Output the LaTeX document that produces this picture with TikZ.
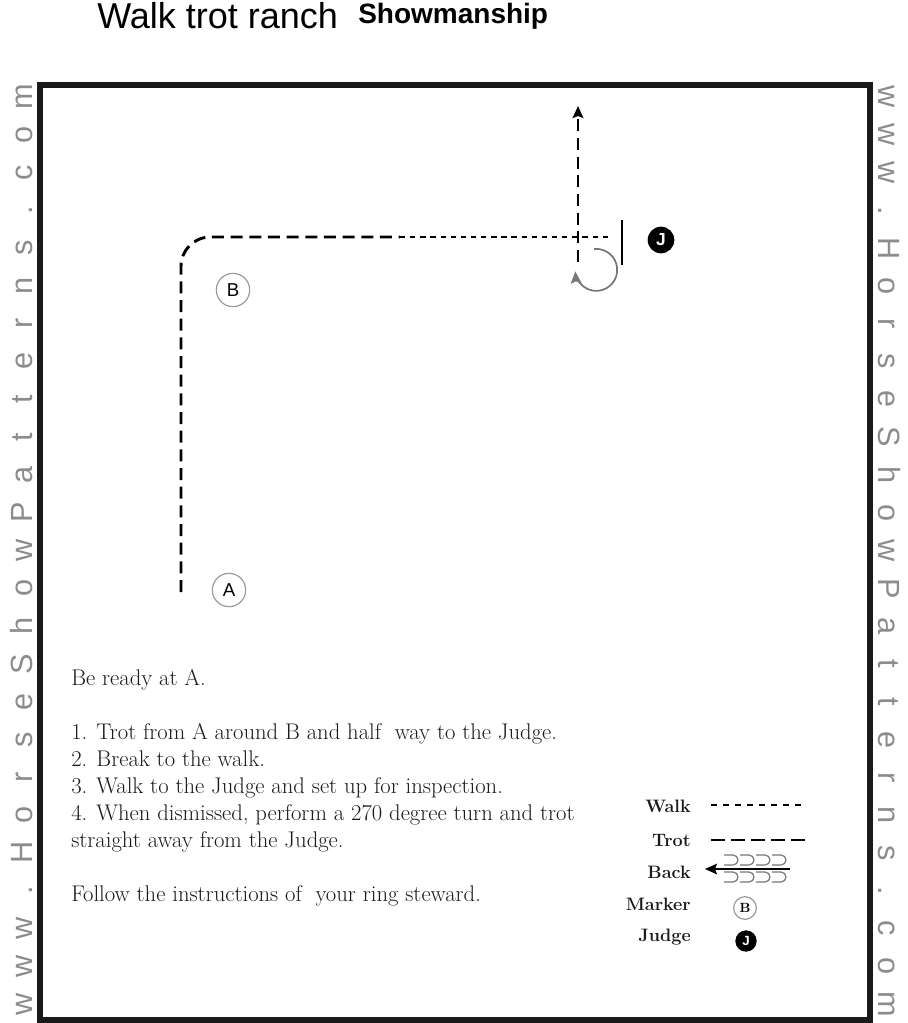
\documentclass[tikz,border=0pt]{standalone}
\usepackage{fontspec}
\usepackage{tikz}
\usetikzlibrary{arrows.meta,positioning}
\newfontfamily\headfont{Liberation Sans}
\definecolor{wmgray}{HTML}{8C8C8C}
\definecolor{ringgray}{HTML}{9A9A9A}
\definecolor{loopgray}{HTML}{777777}
\definecolor{inkdark}{HTML}{1A1A1A}
\tikzset{
  trotline/.style={line width=2.2pt,dash pattern=on 9pt off 5pt},
  walkline/.style={line width=2.2pt,dash pattern=on 4pt off 3.6pt},
  exitarr/.style={-{Stealth[length=9pt,width=8pt,inset=1.5pt]}},
  marker/.style={circle,draw=ringgray,line width=0.9pt,minimum size=25pt,inner sep=0pt,font=\headfont\fontsize{14}{14}\selectfont},
  smallmarker/.style={marker,minimum size=17pt,font=\bfseries\fontsize{10}{10}\selectfont},
  judge/.style={circle,fill=black,minimum size=20pt,inner sep=0pt,text=white,font=\headfont\bfseries\fontsize{13}{13}\selectfont},
  smalljudge/.style={judge,minimum size=16pt,font=\headfont\bfseries\fontsize{10}{10}\selectfont},
  leglab/.style={anchor=east,inner sep=0pt,text=inkdark,font=\bfseries\fontsize{13.5}{13.5}\selectfont},
  wmark/.style={anchor=base,inner sep=0pt,text=wmgray,font=\headfont\fontsize{23}{23}\selectfont},
  loopline/.style={draw=loopgray,line width=0.9pt}
}

\begin{document}
\begin{tikzpicture}[x=0.75pt,y=-0.75pt]
  \useasboundingbox (0,0) rectangle (907,1023);
  % heading
  \node[anchor=base west,inner sep=0pt,font=\headfont\fontsize{27}{27}\selectfont] (title) at (97,29) {Walk trot ranch};
  \node[anchor=base west,inner sep=0pt,font=\headfont\bfseries\fontsize{21}{21}\selectfont] (class) at (358,24) {Showmanship};
  % arena
  \draw[line width=3.8pt,draw=inkdark] (40,85) rectangle (870,1020);
  \foreach \ch [count=\i from 0] in {w,w,w,.,H,o,r,s,e,S,h,o,w,P,a,t,t,e,r,n,s,.,c,o,m} {
    \node[wmark,rotate=90] (wl\i) at (32,1004-\i*37.8) {\ch};
    \node[wmark,rotate=-90] (wr\i) at (878,97+\i*37.8) {\ch};
  }
  % markers
  \node[marker] (mA) at (229,590) {A};
  \node[marker] (mB) at (233,290) {B};
  \node[judge] (jdg) at (661,240) {J};
  \coordinate (jtop) at (622,220);
  \coordinate (jbot) at (622,265);
  \draw[line width=2pt] (jtop) -- (jbot);
  % pattern
  \coordinate (start) at (181,592);
  \coordinate (corner) at (181,237);
  \coordinate (brk) at (400,237);
  \coordinate (halt) at (610,237);
  \coordinate (turn) at (578,262);
  \coordinate (away) at (578,106);
  \draw[trotline,rounded corners=22] (start) -- (corner) -- (brk);
  \draw[walkline] (brk) -- (halt);
  \draw[trotline,exitarr] (turn) -- (away);
  \draw[line width=1.3pt,draw=loopgray,exitarr] (594,249) arc[start angle=-96,end angle=176,radius=21];
  % instructions
  \node[anchor=north west,inner sep=0pt,align=left,text=inkdark,
        font=\fontsize{17}{20.25}\selectfont] (steps) at (71,669)
    {Be ready at A.\\[20.25pt]
     1. Trot from A around B and half~ way to the Judge.\\
     2. Break to the walk.\\
     3. Walk to the Judge and set up for inspection.\\
     4. When dismissed, perform a 270 degree turn and trot\\
     straight away from the Judge.\\[20.25pt]
     Follow the instructions of~ your ring steward.};
  % legend
  \node[leglab] (lwalk) at (691,806) {Walk};
  \node[leglab] (ltrot) at (691,840) {Trot};
  \node[leglab] (lback) at (691,872) {Back};
  \node[leglab] (lmark) at (691,904) {Marker};
  \node[leglab] (ljudge) at (691,937) {Judge};
  \coordinate (w1) at (711,805); \coordinate (w2) at (806,805);
  \coordinate (t1) at (711,840); \coordinate (t2) at (806,840);
  \draw[walkline,line width=1.8pt,dash pattern=on 4.5pt off 4.5pt] (w1) -- (w2);
  \draw[trotline,line width=1.8pt,dash pattern=on 10.5pt off 4.5pt] (t1) -- (t2);
  \coordinate (b1) at (790,869); \coordinate (b2) at (705,869);
  \draw[line width=1.1pt,-{Stealth[length=9pt,width=8pt,inset=1.5pt]}] (b1) -- (b2);
  \foreach \k in {0,1,2,3} {
    \draw[loopline] (724+\k*16,855) -- (733+\k*16,855) arc[start angle=-90,end angle=90,radius=5] -- (724+\k*16,865);
    \draw[loopline] (724+\k*16,872) -- (733+\k*16,872) arc[start angle=-90,end angle=90,radius=5] -- (724+\k*16,882);
  }
  \node[smallmarker] (kB) at (745,908) {B};
  \node[smalljudge] (kJ) at (746,941) {J};
\end{tikzpicture}
\end{document}
